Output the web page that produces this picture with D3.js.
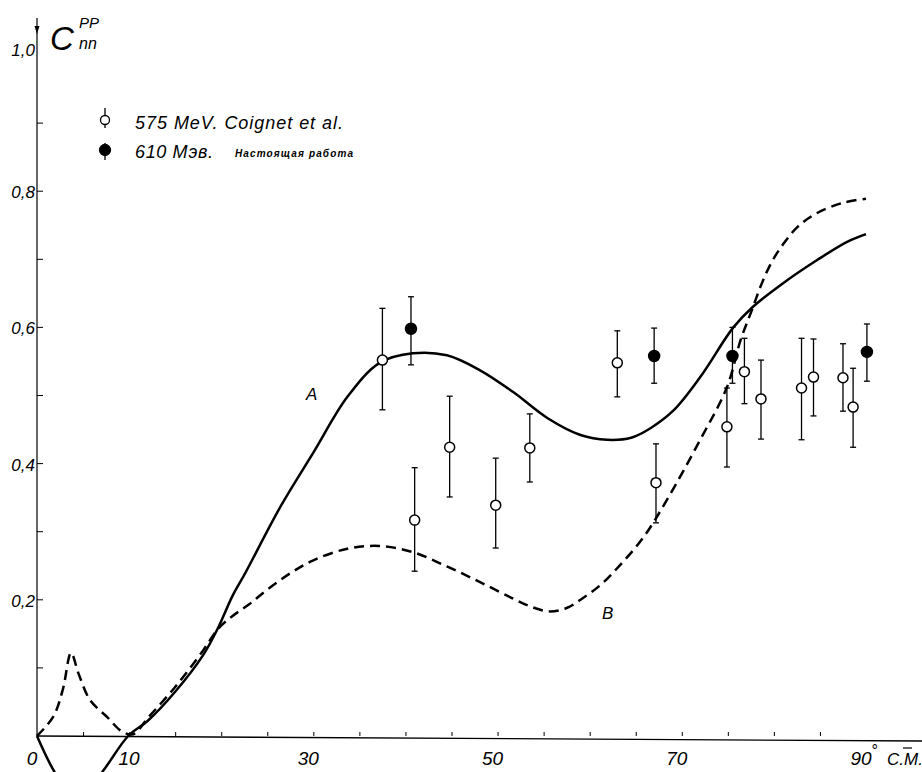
<!DOCTYPE html>
<html>
<head>
<meta charset="utf-8">
<script src="https://cdn.jsdelivr.net/npm/d3@7"></script>
<style>
  body { margin: 0; background: #fff; }
  text { font-family: "Liberation Sans", "DejaVu Sans", sans-serif; font-style: italic; fill: #000; }
</style>
</head>
<body>
<svg id="chart" width="922" height="772"></svg>
<script>
// curve A (solid), angle in degrees c.m. and C_nn
const curveA = [
  [0, 0], [2, -0.055], [4, -0.09], [5.5, -0.08], [7.5, -0.045], [9.9, 0],
  [12, 0.022], [15, 0.065], [18, 0.118], [19.7, 0.16], [21.2, 0.205], [22.6, 0.239],
  [26.4, 0.336], [30, 0.416], [33.7, 0.498], [37.2, 0.548], [40.8, 0.562],
  [44.5, 0.559], [48.1, 0.537], [51.7, 0.505], [55.4, 0.467], [59, 0.442],
  [61.9, 0.435], [64.5, 0.438], [66.6, 0.452], [69.1, 0.478], [72, 0.527],
  [75.6, 0.6], [77.7, 0.63], [81, 0.665], [84.7, 0.699], [88, 0.726], [90, 0.737]
]
// curve B (dashed)
const curveB = [
  [0, 0], [1.75, 0.028], [2.8, 0.068], [3.7, 0.122], [4.5, 0.092], [5.75, 0.053],
  [7.6, 0.028], [9.3, 0.006], [10.5, 0.003], [12, 0.026], [15, 0.072], [18, 0.125],
  [19.7, 0.158], [21.2, 0.176], [23, 0.193], [25, 0.215], [27.5, 0.239], [30, 0.258],
  [33.7, 0.275], [37.2, 0.279], [40.8, 0.27], [44.5, 0.249], [48.1, 0.226],
  [51.5, 0.203], [53.8, 0.189], [55.7, 0.183], [57.5, 0.188], [59.2, 0.202],
  [61.2, 0.222], [63.3, 0.251], [65.8, 0.291], [68.4, 0.347], [72, 0.435],
  [74.9, 0.512], [76.4, 0.582], [77.6, 0.625], [78.7, 0.665], [79.8, 0.697],
  [81, 0.722], [82.6, 0.748], [84.7, 0.768], [87.5, 0.783], [90, 0.789]
]
// 575 MeV, Coignet et al. : angle, value, top, bottom
const openPts = [
  [37.5, 0.552, 0.628, 0.479], [41.0, 0.317, 0.394, 0.242], [44.8, 0.424, 0.499, 0.351],
  [49.8, 0.339, 0.408, 0.276], [53.5, 0.423, 0.473, 0.373], [63.0, 0.548, 0.595, 0.498],
  [67.2, 0.372, 0.429, 0.313], [74.9, 0.454, 0.511, 0.395], [76.8, 0.535, 0.584, 0.488],
  [78.6, 0.495, 0.552, 0.436], [83.0, 0.511, 0.584, 0.435], [84.3, 0.527, 0.583, 0.47],
  [87.5, 0.526, 0.576, 0.477], [88.6, 0.483, 0.54, 0.424]
]
// 610 MeV, present work
const filledPts = [
  [40.6, 0.598, 0.645, 0.545], [67.0, 0.558, 0.599, 0.518],
  [75.5, 0.558, 0.6, 0.518], [90.1, 0.564, 0.605, 0.521]
]
const yTicks = [0.2, 0.4, 0.6, 0.8, 1.0]
const yMinor = [0.1, 0.2, 0.3, 0.4, 0.5, 0.6, 0.7, 0.8, 0.9]
const xTicks = [5, 10, 15, 20, 25, 30, 35, 40, 45, 50, 55, 60, 65, 70, 75, 80, 85]
const xLabels = [0, 10, 30, 50, 70, 90]

const svg = d3.select("#chart")
const x = d3.scaleLinear().domain([0, 90]).range([37, 866])
const y = d3.scaleLinear().domain([0, 1]).range([736, 55])

// x axis
const xAxis = svg.append("g")
  .attr("transform", `translate(0,${y(0)})`)
  .call(d3.axisBottom(x).tickValues(xTicks).tickSize(-4).tickFormat("").tickSizeOuter(0))
xAxis.select(".domain").remove()
xAxis.selectAll("line").attr("stroke", "#000").attr("stroke-width", 1)
svg.append("line")
  .attr("x1", x(0)).attr("x2", 922)
  .attr("y1", y(0)).attr("y2", y(0) + 5)
  .attr("stroke", "#000").attr("stroke-width", 1.3)

svg.selectAll(".xlab")
  .data(xLabels)
  .join("text")
  .attr("class", "xlab")
  .attr("x", d => x(d) - (d == 10 ? 0 : 5))
  .attr("y", 765)
  .attr("text-anchor", "middle")
  .attr("font-size", 19)
  .text(d => d)
svg.append("text").attr("x", 871).attr("y", 756).attr("font-size", 16).attr("font-style", "normal").text("°")
svg.append("text").attr("x", 887).attr("y", 765).attr("font-size", 17).text("C.M.")
svg.append("line").attr("x1", 903).attr("x2", 912).attr("y1", 748).attr("y2", 748).attr("stroke", "#000").attr("stroke-width", 1.2)

// y axis
svg.append("line")
  .attr("x1", x(0)).attr("x2", x(0))
  .attr("y1", y(0)).attr("y2", 18)
  .attr("stroke", "#000").attr("stroke-width", 1.2)
svg.append("path")
  .attr("d", `M${x(0) - 2.5},26 L${x(0) + 2.5},26 L${x(0)},34 Z`)
  .attr("fill", "#000")
svg.selectAll(".ymin")
  .data(yMinor)
  .join("line")
  .attr("class", "ymin")
  .attr("x1", x(0)).attr("x2", x(0) + 6)
  .attr("y1", d => y(d)).attr("y2", d => y(d))
  .attr("stroke", "#000").attr("stroke-width", 1)
svg.selectAll(".ylab")
  .data(yTicks)
  .join("text")
  .attr("class", "ylab")
  .attr("x", 35)
  .attr("y", d => y(d) + (d == 1 ? 1 : 7))
  .attr("text-anchor", "end")
  .attr("font-size", 17)
  .text(d => d3.format(".1f")(d).replace(".", ","))

// axis title C_nn^PP
svg.append("text").attr("x", 50).attr("y", 50).attr("font-size", 33).attr("font-style", "normal").text("C")
svg.append("text").attr("x", 79).attr("y", 28).attr("font-size", 15).text("PP")
svg.append("text").attr("x", 79).attr("y", 49).attr("font-size", 16).text("nn")

// curves
const line = d3.line().x(d => x(d[0])).y(d => y(d[1])).curve(d3.curveCatmullRom.alpha(0.5))
svg.append("path")
  .datum(curveA)
  .attr("d", line)
  .attr("fill", "none").attr("stroke", "#000").attr("stroke-width", 2.5)
svg.append("path")
  .datum(curveB)
  .attr("d", line)
  .attr("fill", "none").attr("stroke", "#000").attr("stroke-width", 2.5)
  .attr("stroke-dasharray", "10,6")

svg.append("text").attr("x", 306).attr("y", 400).attr("font-size", 17).text("A")
svg.append("text").attr("x", 602).attr("y", 619).attr("font-size", 17).text("B")

// error bars + points
function drawPoints(pts, filled) {
  const g = svg.append("g")
  const bar = g.selectAll("g").data(pts).join("g")
  bar.append("line")
    .attr("x1", d => x(d[0])).attr("x2", d => x(d[0]))
    .attr("y1", d => y(d[2])).attr("y2", d => y(d[3]))
    .attr("stroke", "#000").attr("stroke-width", 1.3)
  bar.selectAll(".cap")
    .data(d => [[d[0], d[2]], [d[0], d[3]]])
    .join("line")
    .attr("x1", d => x(d[0]) - 3).attr("x2", d => x(d[0]) + 3)
    .attr("y1", d => y(d[1])).attr("y2", d => y(d[1]))
    .attr("stroke", "#000").attr("stroke-width", 1.3)
  bar.append("circle")
    .attr("cx", d => x(d[0])).attr("cy", d => y(d[1]))
    .attr("r", filled ? 5.5 : 5)
    .attr("fill", filled ? "#000" : "#fff")
    .attr("stroke", "#000").attr("stroke-width", 1.5)
}
drawPoints(openPts, false)
drawPoints(filledPts, true)

// legend
const legend = [
  { y: 120, top: 108, bot: 128, filled: false },
  { y: 150, top: 143, bot: 160, filled: true }
]
const lg = svg.append("g")
lg.selectAll("line").data(legend).join("line")
  .attr("x1", 105).attr("x2", 105)
  .attr("y1", d => d.top).attr("y2", d => d.bot)
  .attr("stroke", "#000").attr("stroke-width", 1.3)
lg.selectAll("circle").data(legend).join("circle")
  .attr("cx", 105).attr("cy", d => d.y)
  .attr("r", d => d.filled ? 5.5 : 4.5)
  .attr("fill", d => d.filled ? "#000" : "#fff")
  .attr("stroke", "#000").attr("stroke-width", 1.3)
svg.append("text").attr("x", 135).attr("y", 129).attr("font-size", 18)
  .attr("textLength", 208).attr("lengthAdjust", "spacing").text("575 MeV. Coignet et al.")
svg.append("text").attr("x", 135).attr("y", 158).attr("font-size", 18)
  .attr("textLength", 78).attr("lengthAdjust", "spacing").text("610 Мэв.")
svg.append("text").attr("x", 235).attr("y", 157).attr("font-size", 10).attr("font-weight", "bold")
  .attr("textLength", 118).attr("lengthAdjust", "spacing").text("Настоящая работа")
</script>
</body>
</html>
